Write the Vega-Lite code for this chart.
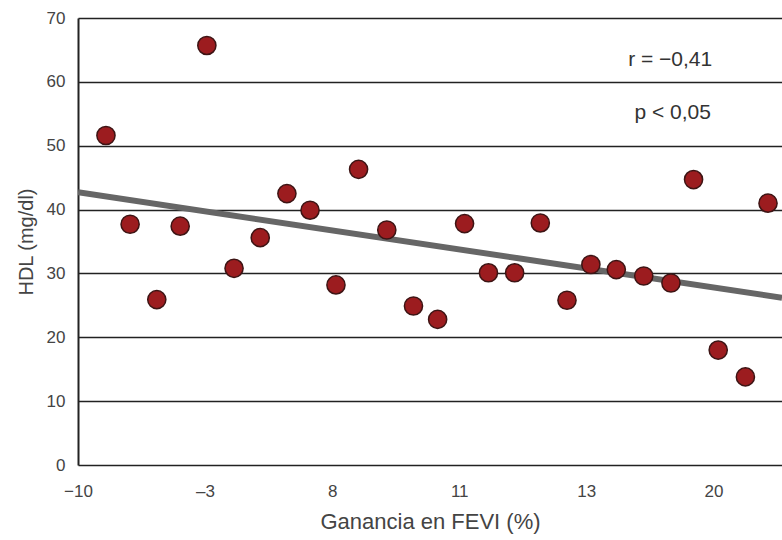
{
  "$schema": "https://vega.github.io/schema/vega-lite/v6.json",
  "width": 704,
  "height": 447,
  "autosize": "none",
  "padding": {"left": 78, "top": 18, "right": 0, "bottom": 75},
  "background": "white",
  "config": {"view": {"stroke": null}, "font": "Liberation Sans"},
  "datasets": {
    "pts": [
      {"pos": 1.10, "hdl": 51.6},
      {"pos": 2.05, "hdl": 37.7},
      {"pos": 3.10, "hdl": 25.9},
      {"pos": 4.02, "hdl": 37.4},
      {"pos": 5.07, "hdl": 65.7},
      {"pos": 6.14, "hdl": 30.8},
      {"pos": 7.17, "hdl": 35.6},
      {"pos": 8.22, "hdl": 42.5},
      {"pos": 9.13, "hdl": 39.9},
      {"pos": 10.15, "hdl": 28.2},
      {"pos": 11.04, "hdl": 46.3},
      {"pos": 12.15, "hdl": 36.8},
      {"pos": 13.20, "hdl": 24.9},
      {"pos": 14.15, "hdl": 22.8},
      {"pos": 15.21, "hdl": 37.8},
      {"pos": 16.15, "hdl": 30.1},
      {"pos": 17.18, "hdl": 30.1},
      {"pos": 18.19, "hdl": 37.9},
      {"pos": 19.24, "hdl": 25.8},
      {"pos": 20.18, "hdl": 31.4},
      {"pos": 21.18, "hdl": 30.6},
      {"pos": 22.26, "hdl": 29.6},
      {"pos": 23.33, "hdl": 28.5},
      {"pos": 24.22, "hdl": 44.7},
      {"pos": 25.19, "hdl": 18.0},
      {"pos": 26.26, "hdl": 13.8},
      {"pos": 27.15, "hdl": 41.0}
    ],
    "fit": [
      {"pos": 0, "hdl": 42.7},
      {"pos": 27.7, "hdl": 26.2}
    ]
  },
  "layer": [
    {
      "data": {"name": "fit"},
      "mark": {"type": "line", "color": "#666666", "strokeWidth": 6, "clip": true},
      "encoding": {
        "x": {
          "field": "pos", "type": "quantitative",
          "scale": {"domain": [0, 27.7], "nice": false, "zero": false},
          "axis": {
            "values": [0, 5, 10, 15, 20, 25],
            "labelExpr": "datum.value == 0 ? '−10' : datum.value == 5 ? '–3' : datum.value == 10 ? '8' : datum.value == 15 ? '11' : datum.value == 20 ? '13' : '20'",
            "grid": false, "ticks": false, "domain": false,
            "labelFontSize": 17, "labelColor": "#444444", "labelPadding": 18,
            "labelFlush": false,
            "title": "Ganancia en FEVI (%)", "titleFontSize": 22, "titleFontWeight": "normal",
            "titleColor": "#444444", "titlePadding": 12
          }
        },
        "y": {
          "field": "hdl", "type": "quantitative",
          "scale": {"domain": [0, 70], "nice": false},
          "axis": {
            "values": [0, 10, 20, 30, 40, 50, 60, 70],
            "grid": true, "gridColor": "#222222", "gridWidth": 1.5,
            "ticks": false, "domain": true, "domainColor": "#222222", "domainWidth": 2,
            "labelFontSize": 17, "labelColor": "#444444", "labelPadding": 13,
            "title": "HDL (mg/dl)", "titleFontSize": 20, "titleFontWeight": "normal",
            "titleColor": "#444444", "titlePadding": 10
          }
        }
      }
    },
    {
      "data": {"name": "pts"},
      "mark": {"type": "point", "filled": true, "size": 330, "opacity": 1, "fill": "#9c1c1f", "stroke": "#3d1414", "strokeWidth": 1.5},
      "encoding": {
        "x": {"field": "pos", "type": "quantitative"},
        "y": {"field": "hdl", "type": "quantitative"}
      }
    },
    {
      "data": {"values": [{"t": "r = −0,41"}]},
      "mark": {"type": "text", "fontSize": 21, "color": "#333333", "align": "center", "baseline": "middle"},
      "encoding": {
        "x": {"datum": 23.3, "type": "quantitative"},
        "y": {"datum": 63.4, "type": "quantitative"},
        "text": {"field": "t"}
      }
    },
    {
      "data": {"values": [{"t": "p < 0,05"}]},
      "mark": {"type": "text", "fontSize": 21, "color": "#333333", "align": "center", "baseline": "middle"},
      "encoding": {
        "x": {"datum": 23.4, "type": "quantitative"},
        "y": {"datum": 55.2, "type": "quantitative"},
        "text": {"field": "t"}
      }
    }
  ]
}
